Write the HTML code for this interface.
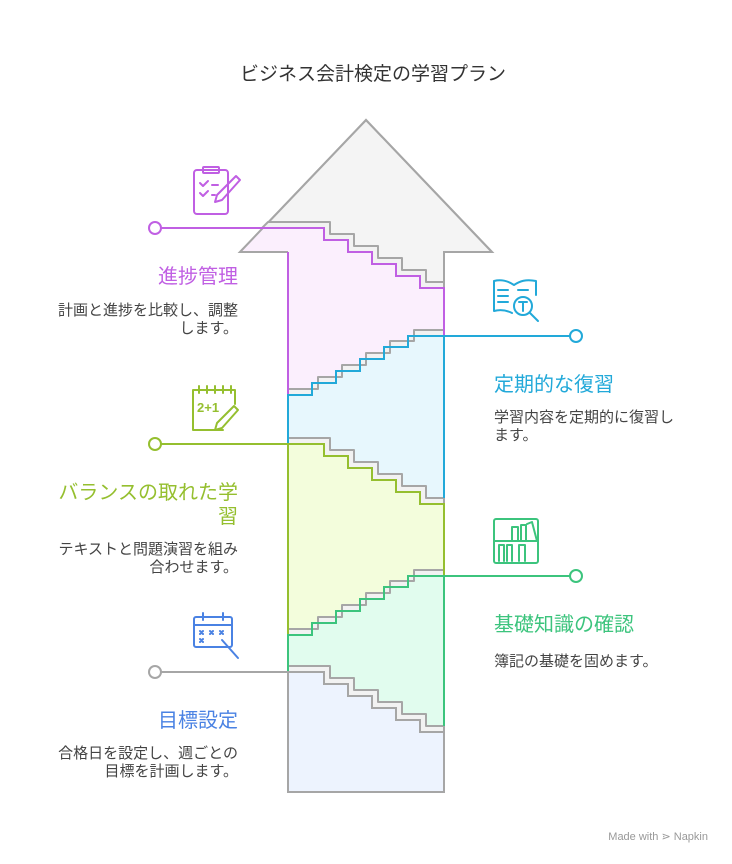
<!DOCTYPE html>
<html><head><meta charset="utf-8">
<style>
html,body{margin:0;padding:0;background:#fff;}
svg{display:block;font-family:"Liberation Sans","Noto Sans CJK JP",sans-serif;}
</style></head>
<body>
<svg width="732" height="864" viewBox="0 0 732 864" xmlns="http://www.w3.org/2000/svg">
<text x="373" y="80" font-size="19" fill="#333" text-anchor="middle">ビジネス会計検定の学習プラン</text>

<!-- arrow head -->
<polygon points="288,252 240,252 366,120 492,252 444,252 444,288 288,288" fill="#f4f4f4" stroke="#a6a6a6" stroke-width="2"/>

<!-- region fills -->
<polygon points="262,228 324,228 324,240 348,240 348,252 372,252 372,264 396,264 396,276 420,276 420,288 444,288 444,336 408,336 408,347 384,347 384,359 360,359 360,371 336,371 336,383 312,383 312,395 288,395 288,252 240,252" fill="#fbeffd"/>
<polygon points="288,395 312,395 312,383 336,383 336,371 360,371 360,359 384,359 384,347 408,347 408,336 444,336 444,504 420,504 420,492 396,492 396,480 372,480 372,468 348,468 348,456 324,456 324,444 288,444" fill="#e7f7fd"/>
<polygon points="288,444 324,444 324,456 348,456 348,468 372,468 372,480 396,480 396,492 420,492 420,504 444,504 444,576 408,576 408,587 384,587 384,599 360,599 360,611 336,611 336,623 312,623 312,635 288,635" fill="#f3fddc"/>
<polygon points="288,635 312,635 312,623 336,623 336,611 360,611 360,599 384,599 384,587 408,587 408,576 444,576 444,732 420,732 420,720 396,720 396,708 372,708 372,696 348,696 348,684 324,684 324,672 288,672" fill="#e1fcee"/>
<polygon points="288,672 324,672 324,684 348,684 348,696 372,696 372,708 396,708 396,720 420,720 420,732 444,732 444,792 288,792" fill="#edf3fe"/>

<!-- arrow outline on top -->
<polyline points="288,252 240,252 366,120 492,252 444,252" fill="none" stroke="#a6a6a6" stroke-width="2"/>

<!-- gray 3D bands -->
<g fill="#f2f2f2" stroke="#a6a6a6" stroke-width="2" stroke-linejoin="round">
<polygon points="268,222 330,222 330,234 354,234 354,246 378,246 378,258 402,258 402,270 426,270 426,282 444,282 444,288 420,288 420,276 396,276 396,264 372,264 372,252 348,252 348,240 324,240 324,228 262,228"/>
<polygon points="288,389 294,389 318,389 318,377 342,377 342,365 366,365 366,353 390,353 390,341 414,341 414,330 444,330 444,336 408,336 408,347 384,347 384,359 360,359 360,371 336,371 336,383 312,383 312,395 288,395"/>
<polygon points="288,438 330,438 330,450 354,450 354,462 378,462 378,474 402,474 402,486 426,486 426,498 444,498 444,504 420,504 420,492 396,492 396,480 372,480 372,468 348,468 348,456 324,456 324,444 288,444"/>
<polygon points="288,629 318,629 318,617 342,617 342,605 366,605 366,593 390,593 390,581 414,581 414,570 444,570 444,576 408,576 408,587 384,587 384,599 360,599 360,611 336,611 336,623 312,623 312,635 288,635"/>
<polygon points="288,666 330,666 330,678 354,678 354,690 378,690 378,702 402,702 402,714 426,714 426,726 444,726 444,732 420,732 420,720 396,720 396,708 372,708 372,696 348,696 348,684 324,684 324,672 288,672"/>
</g>

<!-- colored strokes -->
<g fill="none" stroke-width="2">
<polyline stroke="#c05fe3" points="155,228 324,228 324,240 348,240 348,252 372,252 372,264 396,264 396,276 420,276 420,288 444,288 444,336"/>
<polyline stroke="#c05fe3" points="288,252 288,395"/>
<polyline stroke="#22a9d9" points="288,444 288,395 312,395 312,383 336,383 336,371 360,371 360,359 384,359 384,347 408,347 408,336 576,336"/>
<polyline stroke="#22a9d9" points="444,336 444,498"/>
<polyline stroke="#95bf2f" points="155,444 324,444 324,456 348,456 348,468 372,468 372,480 396,480 396,492 420,492 420,504 444,504 444,576"/>
<polyline stroke="#95bf2f" points="288,444 288,635"/>
<polyline stroke="#3cc47d" points="288,672 288,635 312,635 312,623 336,623 336,611 360,611 360,599 384,599 384,587 408,587 408,576 576,576"/>
<polyline stroke="#3cc47d" points="444,576 444,726"/>
<polyline stroke="#a6a6a6" points="155,672 324,672 324,684 348,684 348,696 372,696 372,708 396,708 396,720 420,720 420,732 444,732 444,792 288,792 288,672"/>
</g>

<!-- dots -->
<g fill="#fff" stroke-width="2">
<circle cx="155" cy="228" r="6" stroke="#c05fe3"/>
<circle cx="155" cy="444" r="6" stroke="#95bf2f"/>
<circle cx="155" cy="672" r="6" stroke="#a6a6a6"/>
<circle cx="576" cy="336" r="6" stroke="#22a9d9"/>
<circle cx="576" cy="576" r="6" stroke="#3cc47d"/>
</g>

<!-- icons -->
<g fill="none" stroke-width="2" stroke-linecap="round" stroke-linejoin="round">
<g stroke="#c05fe3">
<rect x="194" y="170" width="34" height="44" rx="3"/>
<rect x="203" y="167" width="16" height="6" rx="1"/>
<path d="M200 183l3 3 5-5M200 193l3 3 5-5M212 185h6M212 195h3"/>
<path d="M236 176l4 4-18 20-7 2 2-7z"/>
</g>
<g stroke="#95bf2f">
<path d="M193 390v40h30M193 390h42v14"/>
<path d="M199 386v7M207 386v7M215 386v7M223 386v7M231 386v7"/>
<path d="M234 406l4 4-16 18-7 2 2-7z"/>
<text x="197" y="412" font-size="13" font-weight="bold" fill="#95bf2f" stroke="none">2+1</text>
</g>
<g stroke="#4a82e3">
<rect x="194" y="617" width="38" height="30" rx="2"/>
<path d="M194 625h38M203 613v7M223 613v7"/>
<path d="M200 631l3 3m0-3l-3 3M210 631l3 3m0-3l-3 3M220 631l3 3m0-3l-3 3M200 639l3 3m0-3l-3 3"/>
<path d="M222 640l16 18"/>
</g>
<g stroke="#22a9d9">
<path d="M494 281c8-2 14 0 20 4 6-4 12-6 22-4v14M494 281v30c8-2 14 0 18 2"/>
<path d="M498 290h10M498 296h10M498 302h10M518 290h10"/>
<circle cx="523" cy="306" r="9"/>
<path d="M530 313l8 8M519 302h8M523 302v9"/>
</g>
<g stroke="#3cc47d">
<rect x="494" y="519" width="44" height="44" rx="2"/>
<path d="M494 541h44M512 541v-14h6v14M521 541v-16h5v16M527 524l5-2 5 19M499 561v-16h5v16M507 561v-16h5v16M519 561v-16h6v16"/>
</g>
</g>

<!-- labels -->
<g font-size="20">
<text x="238" y="283" text-anchor="end" fill="#c05fe3">進捗管理</text>
<text x="238" y="499" text-anchor="end" fill="#95bf2f">バランスの取れた学</text>
<text x="238" y="523" text-anchor="end" fill="#95bf2f">習</text>
<text x="238" y="727" text-anchor="end" fill="#4a82e3">目標設定</text>
<text x="494" y="391" fill="#22a9d9">定期的な復習</text>
<text x="494" y="631" fill="#3cc47d">基礎知識の確認</text>
</g>
<g font-size="15" fill="#444">
<text x="238" y="315" text-anchor="end">計画と進捗を比較し、調整</text>
<text x="238" y="333" text-anchor="end">します。</text>
<text x="238" y="554" text-anchor="end">テキストと問題演習を組み</text>
<text x="238" y="572" text-anchor="end">合わせます。</text>
<text x="238" y="758" text-anchor="end">合格日を設定し、週ごとの</text>
<text x="238" y="776" text-anchor="end">目標を計画します。</text>
<text x="494" y="422">学習内容を定期的に復習し</text>
<text x="494" y="440">ます。</text>
<text x="494" y="666">簿記の基礎を固めます。</text>
</g>
<text x="708" y="840" font-size="11" fill="#999" text-anchor="end">Made with ⋗ Napkin</text>
</svg>
</body></html>
